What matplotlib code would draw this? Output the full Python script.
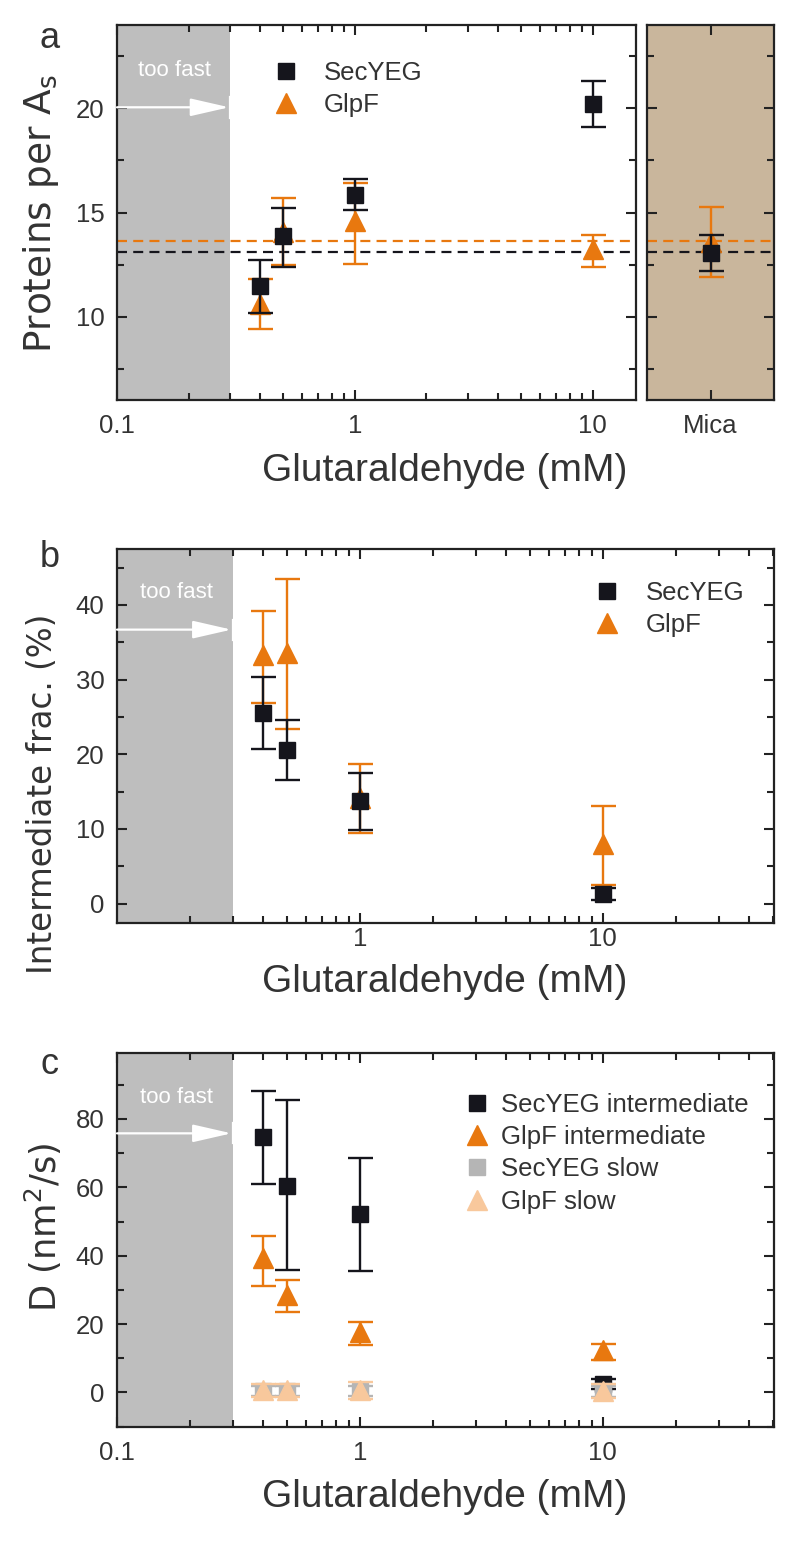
import matplotlib
matplotlib.use('Agg')
import matplotlib.pyplot as plt
from matplotlib.lines import Line2D
from matplotlib.ticker import FixedLocator, MultipleLocator, LogLocator, NullFormatter, FuncFormatter

plt.rcParams['font.family'] = ['Liberation Sans', 'DejaVu Sans']
plt.rcParams['mathtext.fontset'] = 'dejavusans'

# ---- data ----
conc = [0.4, 0.5, 1, 10]

# panel a: proteins per A_s
a_sec = [11.45, 13.85, 15.85, 20.2]
a_sec_lo = [1.25, 1.45, 0.75, 1.1]
a_sec_hi = [1.25, 1.35, 0.75, 1.1]
a_glp = [10.6, 14.05, 14.6, 13.25]
a_glp_lo = [1.2, 1.55, 2.05, 0.85]
a_glp_hi = [1.2, 1.65, 1.8, 0.65]
mica_sec, mica_sec_lo, mica_sec_hi = 13.05, 0.85, 0.85
mica_glp, mica_glp_lo, mica_glp_hi = 13.6, 1.7, 1.65
mean_sec = 13.1
mean_glp = 13.65

# panel b: intermediate fraction (%)
b_sec = [25.5, 20.6, 13.8, 1.3]
b_sec_lo = [4.8, 4.0, 4.0, 0.8]
b_sec_hi = [4.8, 4.0, 3.7, 0.8]
b_glp = [33.3, 33.6, 14.1, 8.0]
b_glp_lo = [6.4, 10.2, 4.7, 5.5]
b_glp_hi = [5.9, 9.9, 4.6, 5.1]

# panel c: diffusion coefficient (nm^2/s)
c_sec = [74.6, 60.4, 52.1, 2.5]
c_sec_lo = [13.7, 24.6, 16.6, 1.5]
c_sec_hi = [13.6, 25.1, 16.5, 1.5]
c_glp = [39.2, 28.5, 17.7, 12.4]
c_glp_lo = [8.0, 5.1, 3.9, 3.0]
c_glp_hi = [6.6, 4.5, 2.9, 1.9]
c_sec_slow = [0.4, 0.5, 0.4, 0.3]
c_sec_slow_err = [1.5, 1.5, 1.5, 1.5]
c_glp_slow = [0.6, 0.6, 0.6, 0.5]
c_glp_slow_err = [2.0, 2.0, 2.5, 2.0]

BLACK = '#15151c'
ORANGE = '#e8780f'
GRAY = '#b5b5b5'
LORANGE = '#f8c89c'
SHADE = '#bebebe'
MICA = '#c9b69c'
SPINE = '#222222'
TXT = '#333333'

W, H = 800, 1544
fig = plt.figure(figsize=(W / 100, H / 100), dpi=100)


def box(l, t, r, b):
    return [l / W, 1 - b / H, (r - l) / W, (b - t) / H]


def style(ax, xpad=10):
    for s in ax.spines.values():
        s.set_color(SPINE)
        s.set_linewidth(1.6)
    ax.tick_params(which='both', direction='in', top=True, right=True,
                   width=1.5, color=SPINE, labelsize=18.5, labelcolor=TXT)
    ax.tick_params(which='major', length=7.5)
    ax.tick_params(which='minor', length=5)
    ax.tick_params(axis='y', pad=9)
    ax.tick_params(axis='x', pad=xpad)


def logx(ax, right, labels):
    ax.set_xscale('log')
    ax.set_xlim(0.1, right)
    ax.xaxis.set_major_locator(FixedLocator(labels))
    ax.xaxis.set_major_formatter(FuncFormatter(lambda v, p: '%g' % v))
    ax.xaxis.set_minor_locator(LogLocator(base=10, subs=range(2, 10)))
    ax.xaxis.set_minor_formatter(NullFormatter())


def too_fast(ax, ytext, yarrow, bar):
    ax.axvspan(0.1, 0.3, color=SHADE, lw=0, zorder=0)
    ax.text(0.175, ytext, 'too fast', color='white', fontsize=16,
            ha='center', va='center')
    ax.annotate('', xy=(0.296, yarrow), xytext=(0.1, yarrow),
                arrowprops=dict(arrowstyle='-|>,head_length=2.4,head_width=0.55',
                                color='white', lw=1.6, shrinkA=0, shrinkB=0))
    ax.plot([0.3, 0.3], [yarrow - bar, yarrow + bar], color='white', lw=1.6)


def ebar(ax, x, y, lo, hi, color, marker, ms, z):
    ax.errorbar(x, y, yerr=[lo, hi], fmt=marker, color=color, ms=ms,
                mec=color, ecolor=color, elinewidth=1.7, capsize=9, capthick=1.7,
                zorder=z)


def legend(ax, entries, x, y, textpad=1.0):
    handles = [Line2D([], [], ls='none', marker=m, color=c, ms=ms) for c, m, ms, _ in entries]
    labels = [t for _, _, _, t in entries]
    ax.legend(handles, labels, loc='upper left', bbox_to_anchor=(x, y), frameon=False,
              fontsize=18.5, handlelength=1.0, handletextpad=textpad, labelspacing=0.32,
              borderpad=0, borderaxespad=0, labelcolor=TXT)


def ylab(x, y, s, size):
    fig.text(x / W, 1 - y / H, s, fontsize=size, color=TXT, rotation=90,
             ha='center', va='center', family='DejaVu Sans')


def xlab(y):
    fig.text(445 / W, 1 - y / H, 'Glutaraldehyde (mM)', fontsize=28, color=TXT,
             ha='center', va='center')


def letter(x, y, s):
    fig.text(x / W, 1 - y / H, s, fontsize=26, color=TXT, ha='center', va='center')


SQ, TRI = 12, 14
LEFT, RIGHT = 117, 774

# ---- panel a ----
axa = fig.add_axes(box(LEFT, 25, 636, 400))
axm = fig.add_axes(box(647, 25, RIGHT, 400))
style(axa)
style(axm)
logx(axa, 15.2, [0.1, 1, 10])
axa.set_ylim(6, 24)
axa.yaxis.set_major_locator(MultipleLocator(5))
axa.yaxis.set_minor_locator(MultipleLocator(2.5))
too_fast(axa, 21.8, 20.05, 0.5)
for ax in (axa, axm):
    ax.axhline(mean_glp, color=ORANGE, ls=(0, (4.5, 2.8)), lw=1.6, zorder=1)
    ax.axhline(mean_sec, color=BLACK, ls=(0, (4.5, 2.8)), lw=1.6, zorder=1)
ebar(axa, conc, a_glp, a_glp_lo, a_glp_hi, ORANGE, '^', TRI, 3)
ebar(axa, conc, a_sec, a_sec_lo, a_sec_hi, BLACK, 's', SQ, 4)
legend(axa, [(BLACK, 's', SQ, 'SecYEG'), (ORANGE, '^', TRI, 'GlpF')], 0.30, 0.905)

axm.set_facecolor(MICA)
axm.set_xlim(0, 2)
axm.set_ylim(6, 24)
axm.yaxis.set_major_locator(MultipleLocator(5))
axm.yaxis.set_minor_locator(MultipleLocator(2.5))
axm.set_yticklabels([])
axm.set_xticks([1])
axm.set_xticklabels(['Mica'])
ebar(axm, [1], [mica_glp], [mica_glp_lo], [mica_glp_hi], ORANGE, '^', TRI, 3)
ebar(axm, [1], [mica_sec], [mica_sec_lo], [mica_sec_hi], BLACK, 's', SQ, 4)

xlab(471)
ylab(41, 213, r'Proteins per A$_{\rm s}$', 27)
letter(50, 38, 'a')

# ---- panel b ----
axb = fig.add_axes(box(LEFT, 549, RIGHT, 923))
style(axb, xpad=3)
logx(axb, 50.7, [1, 10])
axb.set_ylim(-2.6, 47.5)
axb.yaxis.set_major_locator(MultipleLocator(10))
axb.yaxis.set_minor_locator(MultipleLocator(5))
too_fast(axb, 41.7, 36.7, 1.35)
ebar(axb, conc, b_glp, b_glp_lo, b_glp_hi, ORANGE, '^', TRI, 3)
ebar(axb, conc, b_sec, b_sec_lo, b_sec_hi, BLACK, 's', SQ, 4)
legend(axb, [(BLACK, 's', SQ, 'SecYEG'), (ORANGE, '^', TRI, 'GlpF')], 0.726, 0.915)

xlab(982)
ylab(43, 794, 'Intermediate frac. (%)', 23.5)
letter(50, 558, 'b')

# ---- panel c ----
axc = fig.add_axes(box(LEFT, 1053, RIGHT, 1427))
style(axc)
logx(axc, 50.7, [0.1, 1, 10])
axc.set_ylim(-10.1, 99.3)
axc.yaxis.set_major_locator(MultipleLocator(20))
axc.yaxis.set_minor_locator(MultipleLocator(10))
too_fast(axc, 86.3, 75.8, 2.9)
ebar(axc, conc, c_glp, c_glp_lo, c_glp_hi, ORANGE, '^', TRI, 3)
ebar(axc, conc, c_sec, c_sec_lo, c_sec_hi, BLACK, 's', SQ, 4)
ebar(axc, conc, c_sec_slow, c_sec_slow_err, c_sec_slow_err, GRAY, 's', SQ, 5)
ebar(axc, conc, c_glp_slow, c_glp_slow_err, c_glp_slow_err, LORANGE, '^', TRI, 6)
legend(axc, [(BLACK, 's', SQ, 'SecYEG intermediate'), (ORANGE, '^', TRI, 'GlpF intermediate'),
             (GRAY, 's', SQ, 'SecYEG slow'), (LORANGE, '^', TRI, 'GlpF slow')], 0.528, 0.893,
       textpad=0.45)

xlab(1497)
ylab(43, 1227, r'D (nm$^{2}$/s)', 25.5)
letter(50, 1065, 'c')

fig.savefig('out.png', dpi=100, facecolor='white')
